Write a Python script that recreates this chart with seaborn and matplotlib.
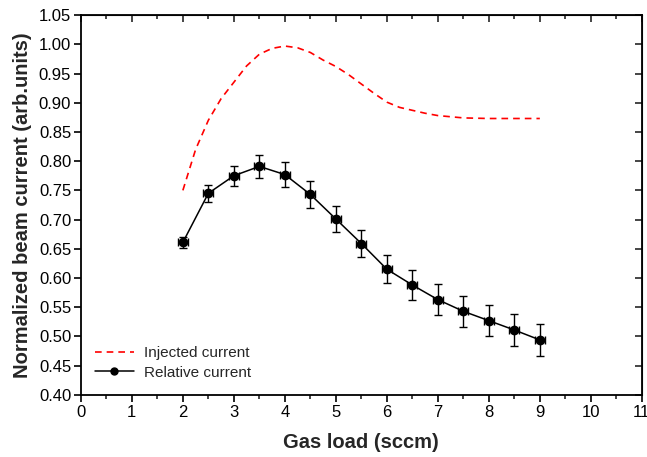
import numpy as np
import pandas as pd
import matplotlib
matplotlib.use("Agg")
import matplotlib.pyplot as plt
import seaborn as sns
from matplotlib.ticker import MultipleLocator
from matplotlib.lines import Line2D

# Relative current (measured points with error bars)
gas_load = [2.0, 2.5, 3.0, 3.5, 4.0, 4.5, 5.0, 5.5, 6.0, 6.5, 7.0, 7.5, 8.0, 8.5, 9.0]
relative = [0.661, 0.745, 0.775, 0.791, 0.777, 0.743, 0.701, 0.659, 0.615,
            0.588, 0.563, 0.543, 0.527, 0.511, 0.494]
rel_yerr = [0.010, 0.015, 0.017, 0.019, 0.021, 0.023, 0.023, 0.023, 0.024,
            0.025, 0.026, 0.027, 0.027, 0.027, 0.028]
rel_xerr = [0.1] * len(gas_load)

# Injected current (dashed curve)
inj_x = [2.0, 2.25, 2.5, 2.75, 3.0, 3.25, 3.5, 3.75, 4.0, 4.25, 4.5, 4.75, 5.0,
         5.25, 5.5, 5.75, 6.0, 6.25, 6.5, 6.75, 7.0, 7.5, 8.0, 8.5, 9.0]
inj_y = [0.750, 0.820, 0.870, 0.907, 0.935, 0.963, 0.983, 0.993, 0.997, 0.994,
         0.986, 0.973, 0.962, 0.948, 0.932, 0.916, 0.901, 0.892, 0.887, 0.882,
         0.878, 0.874, 0.873, 0.873, 0.873]

sns.set_style("ticks")
plt.rcParams['font.family'] = ['Liberation Sans', 'DejaVu Sans']

fig = plt.figure(figsize=(6.47, 4.57), dpi=100)
ax = fig.add_axes([0.125, 0.136, 0.867, 0.831])

inj = pd.DataFrame({'x': inj_x, 'y': inj_y})
sns.lineplot(data=inj, x='x', y='y', ax=ax, color='red', lw=1.2,
             linestyle=(0, (4, 3)), legend=False)

ax.errorbar(gas_load, relative, yerr=rel_yerr, xerr=rel_xerr, fmt='-o',
            color='black', ms=6, lw=1.1, elinewidth=1.0, capsize=3,
            capthick=1.0)

ax.set_xlim(0, 11)
ax.set_ylim(0.40, 1.05)
ax.xaxis.set_major_locator(MultipleLocator(1))
ax.xaxis.set_minor_locator(MultipleLocator(0.5))
ax.yaxis.set_major_locator(MultipleLocator(0.05))
ax.yaxis.set_major_formatter(matplotlib.ticker.FormatStrFormatter('%.2f'))

for s in ax.spines.values():
    s.set_linewidth(1.3)
    s.set_color('black')
ax.tick_params(axis='both', which='major', labelsize=12, length=5, width=1.2,
               direction='out', colors='black', pad=2)
ax.tick_params(axis='x', which='minor', length=3, width=1.2, direction='out')

# inward ticks on top/right
top = ax.secondary_xaxis('top')
top.xaxis.set_major_locator(MultipleLocator(1))
top.xaxis.set_minor_locator(MultipleLocator(0.5))
top.tick_params(which='major', direction='in', length=5, width=1.2, labeltop=False)
top.tick_params(which='minor', direction='in', length=3, width=1.2)
right = ax.secondary_yaxis('right')
right.yaxis.set_major_locator(MultipleLocator(0.05))
right.tick_params(which='major', direction='in', length=5, width=1.2, labelright=False)

ax.set_xlabel('Gas load (sccm)', fontsize=14.5, fontweight='bold', labelpad=10)
ax.set_ylabel('Normalized beam current (arb.units)', fontsize=14.5,
              fontweight='bold', labelpad=5)

handles = [Line2D([], [], color='red', lw=1.2, linestyle=(0, (4, 3))),
           Line2D([], [], color='black', lw=1.1, marker='o', ms=5)]
ax.legend(handles, ['Injected current', 'Relative current'], loc='lower left',
          frameon=False, fontsize=11, handlelength=2.6, handletextpad=0.6,
          bbox_to_anchor=(0.0, 0.004), labelspacing=0.35)

fig.savefig('out.png', dpi=100)
